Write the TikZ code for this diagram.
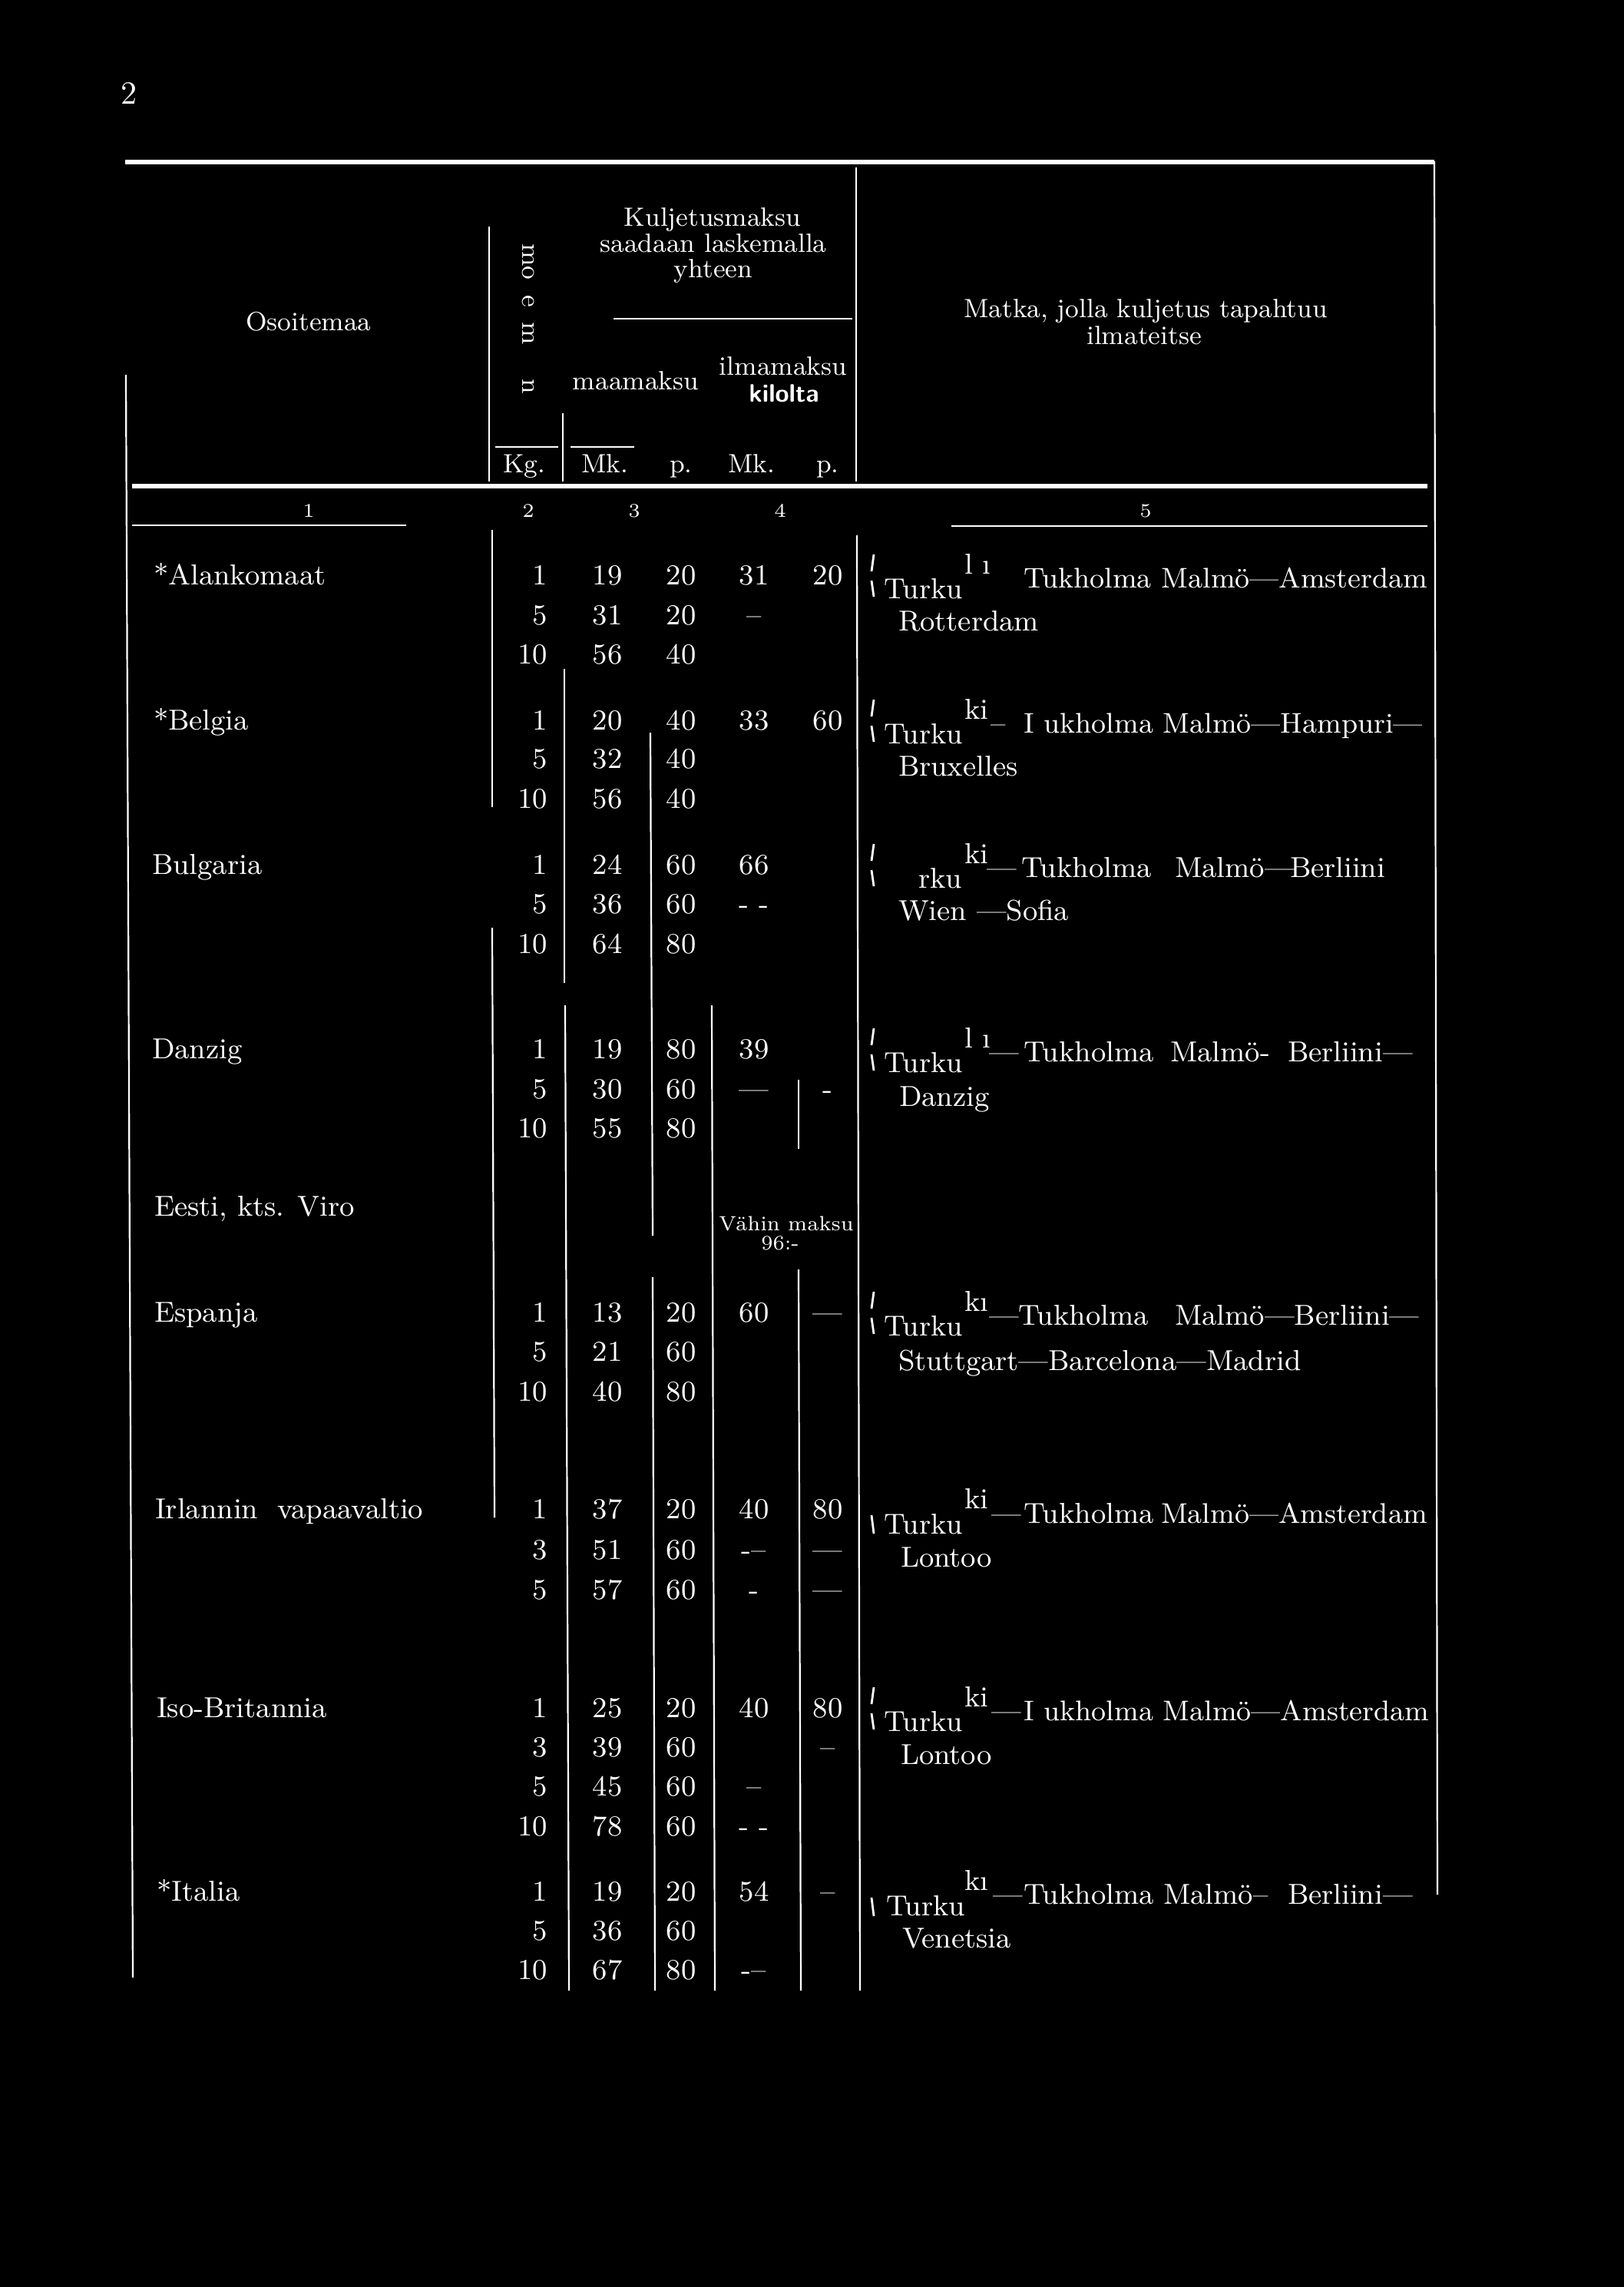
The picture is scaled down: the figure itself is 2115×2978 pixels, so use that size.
\documentclass[tikz,border=0pt]{standalone}
\newcommand{\drow}[7]{%
  \node[num,anchor=base east] (#1k) at (713,#2) {#3};
  \node[num] (#1a) at (791,#2) {#4};
  \node[num] (#1b) at (887,#2) {#5};
  \node[num] (#1c) at (982,#2) {#6};
  \node[num] (#1d) at (1078,#2) {#7};}
\newcommand{\brk}[1]{%
  \draw[brkline] (1138,#1-27) -- (1135,#1-5);
  \draw[brkline] (1135,#1+7) -- (1138,#1+28);}
\newcommand{\brkb}[1]{%
  \draw[brkline] (1135,#1+8) -- (1138,#1+32);}
\tikzset{
  tx/.style={text=white, inner sep=0pt, outer sep=0pt, font=\fontsize{9.4}{11}\selectfont, anchor=base west},
  txn/.style={text=white, inner sep=0pt, outer sep=0pt, font=\fontsize{9.25}{11}\selectfont, anchor=base west},
  num/.style={text=white, inner sep=0pt, outer sep=0pt, font=\fontsize{9.4}{11}\selectfont, anchor=base},
  hd/.style={text=white, inner sep=0pt, outer sep=0pt, font=\fontsize{8.6}{10}\selectfont, anchor=base},
  colnum/.style={text=white, inner sep=0pt, outer sep=0pt, font=\fontsize{6.3}{7}\selectfont, anchor=base},
  rulethin/.style={white, line width=0.55pt},
  rulethick/.style={white, line width=1.3pt},
  brkline/.style={white, line width=0.7pt},
}
\begin{document}
\begin{tikzpicture}[x=0.25pt,y=-0.25pt]
\fill[black] (0,0) rectangle (2115,2978);
\useasboundingbox (0,0) rectangle (2115,2978);

% page number
\node[text=white, inner sep=0pt, font=\fontsize{10.5}{12}\selectfont, anchor=base] (pg) at (168,135) {2};

% ---------- rules ----------
\draw[rulethick] (163,211) -- (1868,211);
\draw[rulethick] (172,633) -- (1859,633);
\draw[rulethin] (172,684) -- (529,684);
\draw[rulethin] (1239,685) -- (1859,685);
\draw[rulethin] (799,415) -- (1110,415);
\draw[rulethin] (645,582) -- (727,582);
\draw[rulethin] (743,582) -- (826,582);
% header verticals
\draw[rulethin] (637,295) -- (637,627);
\draw[rulethin] (733,538) -- (733,627);
\draw[rulethin] (1115,218) -- (1115,627);
% borders
\draw[rulethin] (164,488) -- (173,2575);
\draw[rulethin] (1868,210) -- (1872,2467);
% body verticals
\draw[rulethin] (641,690) -- (641,1051);
\draw[rulethin] (641,1208) -- (644,1976);
\draw[rulethin] (735,871) -- (735,1280);
\draw[rulethin] (736,1309) -- (741,2592);
\draw[rulethin] (847,954) -- (850,1609);
\draw[rulethin] (850,1663) -- (853,2592);
\draw[rulethin] (927,1309) -- (931,2592);
\draw[rulethin] (1040,1406) -- (1040,1496);
\draw[rulethin] (1040,1653) -- (1043,2592);
\draw[rulethin] (1116,697) -- (1120,2592);

% ---------- header ----------
\node[hd] (h1) at (402,430) {Osoitemaa};
\node[hd, rotate=-90, anchor=center] (hrot) at (688,415) {mo\hspace{5pt}e\hspace{5pt}m\hspace{11pt}n};
\node[hd] (h2a) at (928,294) {Kuljetusmaksu};
\node[hd] (h2b) at (929,328) {saadaan laskemalla};
\node[hd] (h2c) at (929,361) {yhteen};
\node[hd] (h3) at (828,507) {maamaksu};
\node[hd] (h4a) at (1020,488) {ilmamaksu};
\node[hd, font=\fontsize{8.2}{10}\selectfont\sffamily\bfseries] (h4b) at (1021,523) {kilolta};
\node[hd] (h5a) at (1492,413) {Matka, jolla kuljetus tapahtuu};
\node[hd] (h5b) at (1490,448) {ilmateitse};
\node[hd] (u1) at (683,615) {Kg.};
\node[hd] (u2) at (788,615) {Mk.};
\node[hd] (u3) at (887,615) {p.};
\node[hd] (u4) at (979,615) {Mk.};
\node[hd] (u5) at (1078,615) {p.};
\node[colnum] (c1) at (402,673) {1};
\node[colnum] (c2) at (688,673) {2};
\node[colnum] (c3) at (826,673) {3};
\node[colnum] (c4) at (1016,673) {4};
\node[colnum] (c5) at (1492,673) {5};

% ---------- Alankomaat ----------
\node[tx] (nA) at (200,761) {*Alankomaat};
\drow{A1}{761}{1}{19}{20}{31}{20}
\drow{A2}{813}{5}{31}{20}{\textendash}{}
\drow{A3}{864}{10}{56}{40}{}{}
\brk{749}
\node[tx] (A-sup) at (1256,747) {l\,\,\i};
\node[tx] (A-tu) at (1151,779) {Turku};
\node[txn] (A-m) at (1333,765) {Tukholma Malmö\textemdash Amsterdam};
\node[tx] (A-2) at (1170,821) {Rotterdam};

% ---------- Belgia ----------
\node[tx] (nB) at (200,950) {*Belgia};
\drow{B1}{950}{1}{20}{40}{33}{60}
\drow{B2}{1000}{5}{32}{40}{}{}
\drow{B3}{1052}{10}{56}{40}{}{}
\brk{938}
\node[tx] (B-sup) at (1256,936) {ki};
\node[tx] (B-tu) at (1151,968) {Turku};
\node[tx] (B-d) at (1290,954) {\textendash};
\node[txn] (B-m) at (1333,954) {I ukholma Malmö\textemdash Hampuri\textemdash};
\node[tx] (B-2) at (1170,1010) {Bruxelles};

% ---------- Bulgaria ----------
\node[tx] (nC) at (198,1138) {Bulgaria};
\drow{C1}{1138}{1}{24}{60}{66}{}
\drow{C2}{1189}{5}{36}{60}{- -}{}
\drow{C3}{1241}{10}{64}{80}{}{}
\brk{1126}
\node[tx] (C-sup) at (1256,1124) {ki};
\node[tx] (C-tu) at (1196,1156) {rku};
\node[tx] (C-d) at (1285,1142) {\textemdash};
\node[tx] (C-t) at (1330,1142) {Tukholma};
\node[tx] (C-m) at (1530,1142) {Malmö\textemdash};
\node[tx] (C-b) at (1680,1142) {Berliini};
\node[tx] (C-2) at (1170,1198) {Wien \textemdash Sofia};

% ---------- Danzig ----------
\node[tx] (nD) at (198,1378) {Danzig};
\drow{D1}{1378}{1}{19}{80}{39}{}
\drow{D2}{1430}{5}{30}{60}{\textemdash}{-}
\drow{D3}{1481}{10}{55}{80}{}{}
\brk{1366}
\node[tx] (D-sup) at (1256,1364) {l\,\,\i};
\node[tx] (D-tu) at (1151,1396) {Turku};
\node[tx] (D-d) at (1288,1382) {\textemdash};
\node[tx] (D-t) at (1333,1382) {Tukholma};
\node[tx] (D-m) at (1524,1382) {Malmö-};
\node[tx] (D-b) at (1677,1382) {Berliini\textemdash};
\node[tx] (D-2) at (1171,1440) {Danzig};

% ---------- Eesti ----------
\node[tx] (nE) at (201,1583) {Eesti, kts. Viro};
\node[num, font=\fontsize{6.7}{8}\selectfont] (E-v) at (1024,1602) {Vähin maksu};
\node[num, font=\fontsize{6.7}{8}\selectfont] (E-n) at (1016,1627) {96:-};

% ---------- Espanja ----------
\node[tx] (nF) at (201,1721) {Espanja};
\drow{F1}{1721}{1}{13}{20}{60}{\textemdash}
\drow{F2}{1772}{5}{21}{60}{}{}
\drow{F3}{1824}{10}{40}{80}{}{}
\brk{1709}
\node[tx] (F-sup) at (1256,1707) {k\i};
\node[tx] (F-tu) at (1151,1739) {Turku};
\node[tx] (F-d) at (1288,1725) {\textemdash};
\node[tx] (F-t) at (1326,1725) {Tukholma};
\node[tx] (F-m) at (1530,1725) {Malmö\textemdash Berliini\textemdash};
\node[tx] (F-2) at (1170,1784) {Stuttgart\textemdash Barcelona\textemdash Madrid};

% ---------- Irlannin vapaavaltio ----------
\node[tx] (nG) at (202,1977) {Irlannin\hspace{3pt} vapaavaltio};
\drow{G1}{1977}{1}{37}{20}{40}{80}
\drow{G2}{2030}{3}{51}{60}{-\textendash}{\textemdash}
\drow{G3}{2082}{5}{57}{60}{-}{\textemdash}
\brkb{1965}
\node[tx] (G-sup) at (1256,1964) {ki};
\node[tx] (G-tu) at (1151,1997) {Turku};
\node[tx] (G-d) at (1291,1983) {\textemdash};
\node[tx] (G-t) at (1333,1983) {Tukholma};
\node[txn] (G-m) at (1512,1983) {Malmö\textemdash Amsterdam};
\node[tx] (G-2) at (1173,2040) {Lontoo};

% ---------- Iso-Britannia ----------
\node[tx] (nH) at (204,2236) {Iso-Britannia};
\drow{H1}{2236}{1}{25}{20}{40}{80}
\drow{H2}{2287}{3}{39}{60}{}{\textendash}
\drow{H3}{2338}{5}{45}{60}{\textendash}{}
\drow{H4}{2390}{10}{78}{60}{- -}{}
\brk{2224}
\node[tx] (H-sup) at (1256,2222) {ki};
\node[tx] (H-tu) at (1151,2254) {Turku};
\node[tx] (H-d) at (1291,2240) {\textemdash};
\node[txn] (H-m) at (1333,2240) {I ukholma Malmö\textemdash Amsterdam};
\node[tx] (H-2) at (1173,2297) {Lontoo};

% ---------- Italia ----------
\node[tx] (nI) at (204,2475) {*Italia};
\drow{I1}{2475}{1}{19}{20}{54}{\textendash}
\drow{I2}{2526}{5}{36}{60}{}{}
\drow{I3}{2577}{10}{67}{80}{-\textendash}{}
\brkb{2463}
\node[tx] (I-sup) at (1256,2461) {k\i};
\node[tx] (I-tu) at (1154,2494) {Turku};
\node[tx] (I-d) at (1293,2479) {\textemdash};
\node[tx] (I-t) at (1333,2479) {Tukholma};
\node[tx] (I-m) at (1515,2479) {Malmö\textendash};
\node[tx] (I-b) at (1677,2479) {Berliini\textemdash};
\node[tx] (I-2) at (1175,2536) {Venetsia};
\end{tikzpicture}
\end{document}
